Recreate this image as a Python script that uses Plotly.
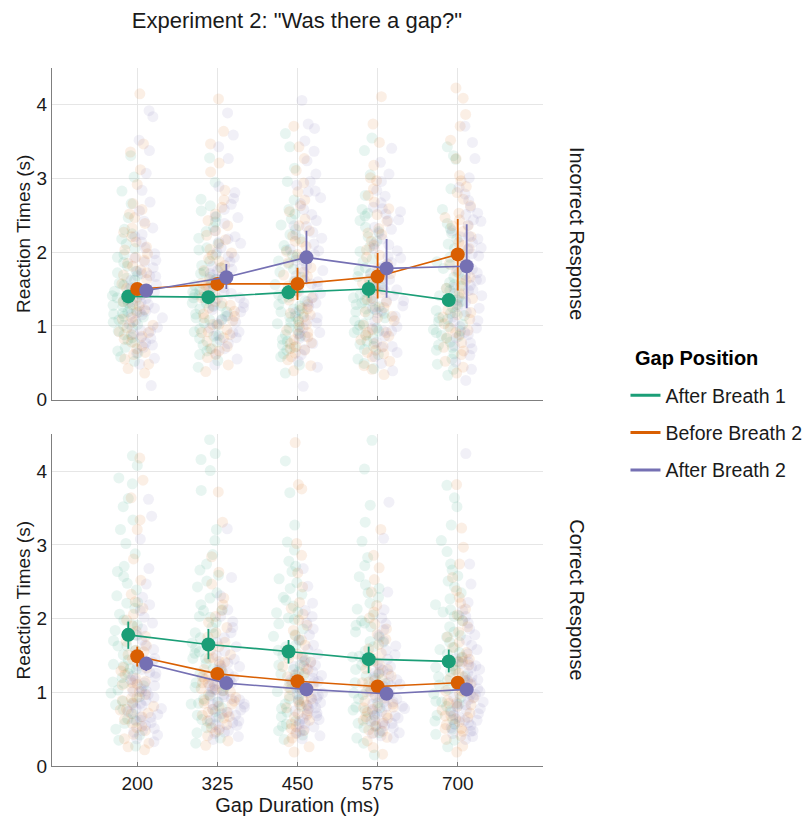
import plotly.graph_objects as go
from plotly.subplots import make_subplots

durations = [200, 325, 450, 575, 700]
positions = ["After Breath 1", "Before Breath 2", "After Breath 2"]
facets = ["Incorrect Response", "Correct Response"]
colors = {"After Breath 1": "#1B9E77", "Before Breath 2": "#D95F02", "After Breath 2": "#7570B3"}

# Mean reaction times (s) by duration
inc_mean_ab1 = [1.40, 1.39, 1.455, 1.50, 1.35]
inc_mean_bb2 = [1.50, 1.57, 1.57, 1.67, 1.97]
inc_mean_ab2 = [1.48, 1.66, 1.93, 1.78, 1.81]
cor_mean_ab1 = [1.78, 1.65, 1.555, 1.45, 1.42]
cor_mean_bb2 = [1.49, 1.25, 1.15, 1.08, 1.13]
cor_mean_ab2 = [1.39, 1.125, 1.04, 0.98, 1.04]

# Error bar low / high (s)
inc_lo_ab1 = [1.33, 1.32, 1.36, 1.38, 1.27]
inc_hi_ab1 = [1.47, 1.46, 1.55, 1.62, 1.43]
inc_lo_bb2 = [1.43, 1.49, 1.35, 1.37, 1.48]
inc_hi_bb2 = [1.57, 1.65, 1.79, 1.99, 2.45]
inc_lo_ab2 = [1.40, 1.50, 1.59, 1.38, 1.24]
inc_hi_ab2 = [1.56, 1.84, 2.29, 2.18, 2.38]
cor_lo_ab1 = [1.59, 1.45, 1.39, 1.26, 1.27]
cor_hi_ab1 = [1.96, 1.86, 1.71, 1.62, 1.58]
cor_lo_bb2 = [1.35, 1.19, 1.09, 1.03, 1.07]
cor_hi_bb2 = [1.62, 1.31, 1.21, 1.13, 1.19]
cor_lo_ab2 = [1.29, 1.07, 0.99, 0.94, 0.99]
cor_hi_ab2 = [1.48, 1.18, 1.09, 1.02, 1.09]

# Raw trial reaction times (s), per duration
inc_raw_ab1 = [
    [0.52,0.71,0.84,0.93,1.02,1.08,1.17,1.21,1.28,1.33,1.36,1.41,1.47,1.55,1.62,1.68,1.74,1.86,1.93,2.05,2.18,2.31,2.47,2.66,2.83,3.02,3.31,0.63,1.12,1.24,
     0.58,0.66,0.77,0.88,0.97,1.05,1.13,1.19,1.26,1.31,1.38,1.44,1.52,1.58,1.65,1.72,1.81,1.97,2.11,2.25,0.81,1.01,1.16,1.35,1.49],
    [0.44,0.61,0.78,0.87,0.96,1.04,1.13,1.19,1.27,1.35,1.42,1.49,1.58,1.66,1.73,1.82,1.97,2.12,2.28,2.41,2.56,2.63,2.72,2.95,3.28,0.69,1.08,1.31,1.52,2.03,
     0.53,0.66,0.74,0.83,0.92,1.01,1.09,1.16,1.23,1.31,1.38,1.46,1.55,1.63,1.71,1.79,1.88,2.06,2.19,2.34,0.86,1.11,1.27,1.43,2.48],
    [0.36,0.58,0.67,0.82,0.94,1.01,1.09,1.16,1.23,1.34,1.42,1.48,1.56,1.61,1.77,1.88,1.96,2.09,2.24,2.37,2.52,2.71,2.96,3.14,3.43,3.61,0.74,1.12,1.29,2.45,
     0.47,0.62,0.71,0.79,0.88,0.97,1.05,1.13,1.21,1.27,1.37,1.45,1.52,1.66,1.73,1.84,1.93,2.03,2.18,2.31,0.86,1.03,1.19,1.39,2.58],
    [0.42,0.55,0.68,0.79,0.88,0.97,1.03,1.11,1.19,1.26,1.31,1.38,1.46,1.53,1.67,1.79,1.91,2.07,2.21,2.34,2.49,2.58,2.77,3.05,3.38,3.55,0.93,1.22,1.71,2.43,
     0.49,0.61,0.72,0.83,0.91,1.01,1.07,1.15,1.23,1.29,1.35,1.42,1.49,1.57,1.63,1.75,1.87,2.01,2.15,2.28,0.75,0.95,1.17,1.34,2.53],
    [0.33,0.48,0.62,0.74,0.83,0.91,0.99,1.06,1.14,1.21,1.29,1.36,1.44,1.51,1.59,1.66,1.78,1.87,1.98,2.11,2.26,2.39,2.58,2.86,3.26,3.31,3.43,0.87,1.18,1.54,
     0.41,0.55,0.67,0.78,0.86,0.95,1.02,1.09,1.17,1.25,1.33,1.41,1.48,1.56,1.63,1.72,1.83,1.93,2.05,2.18,0.71,0.93,1.11,1.39,2.32],
]
inc_raw_bb2 = [
    [0.36,0.42,0.55,0.69,0.78,0.86,0.97,1.05,1.18,1.27,1.39,1.51,1.63,1.76,1.89,1.98,2.07,2.21,2.33,2.47,2.66,2.92,3.12,3.36,3.47,4.15,0.92,1.44,1.85,2.58,
     0.48,0.61,0.73,0.82,0.91,1.01,1.11,1.22,1.33,1.45,1.57,1.69,1.81,1.93,2.03,2.14,2.27,2.39,0.64,0.88,1.09,1.29,1.48,1.72,2.52],
    [0.38,0.57,0.66,0.79,0.88,0.95,1.07,1.16,1.24,1.38,1.47,1.58,1.69,1.82,1.96,2.04,2.17,2.29,2.43,2.61,2.84,3.09,3.21,3.47,3.64,4.08,1.02,1.33,1.91,2.52,
     0.47,0.61,0.72,0.84,0.91,1.02,1.11,1.20,1.31,1.42,1.52,1.63,1.75,1.88,1.99,2.11,2.23,2.36,0.69,0.92,1.13,1.28,1.55,1.79,2.71],
    [0.39,0.54,0.63,0.72,0.81,0.89,0.98,1.06,1.17,1.29,1.41,1.54,1.67,1.79,1.93,2.08,2.22,2.36,2.55,2.71,2.94,3.11,3.27,3.43,3.71,0.77,1.24,1.62,2.14,2.82,
     0.46,0.58,0.67,0.76,0.85,0.94,1.02,1.12,1.23,1.35,1.47,1.60,1.73,1.86,2.01,2.15,2.29,2.45,0.69,0.91,1.15,1.38,1.69,1.97,2.63],
    [0.34,0.46,0.58,0.67,0.76,0.87,0.95,1.07,1.19,1.32,1.45,1.58,1.71,1.84,2.03,2.15,2.32,2.51,2.68,2.86,3.01,3.18,3.49,3.74,4.11,0.91,1.26,1.63,2.24,2.97,
     0.41,0.52,0.62,0.72,0.81,0.91,1.01,1.13,1.25,1.38,1.51,1.64,1.77,1.93,2.09,2.26,2.42,2.59,0.64,0.86,1.11,1.36,1.68,1.96,2.77],
    [0.36,0.52,0.71,0.84,0.97,1.09,1.22,1.37,1.51,1.66,1.82,1.97,2.13,2.28,2.44,2.63,2.81,3.04,3.27,3.52,3.71,3.87,4.09,4.23,0.94,1.44,1.91,2.36,2.97,1.18,
     0.44,0.61,0.77,0.91,1.03,1.15,1.29,1.44,1.58,1.74,1.89,2.05,2.21,2.36,2.53,2.72,0.66,0.88,1.12,1.33,1.62,1.84,2.09,2.47,2.89],
]
inc_raw_ab2 = [
    [0.19,0.48,0.63,0.77,0.89,0.98,1.07,1.16,1.24,1.33,1.42,1.51,1.62,1.74,1.87,1.98,2.14,2.33,2.56,2.84,3.07,3.38,3.52,3.84,3.92,0.83,1.19,1.46,1.71,2.24,
     0.56,0.71,0.84,0.94,1.02,1.11,1.20,1.29,1.37,1.46,1.56,1.67,1.79,1.92,2.06,2.21,2.42,0.74,0.93,1.15,1.32,1.51,1.68,1.89,2.68],
    [0.47,0.62,0.76,0.87,0.97,1.08,1.19,1.31,1.44,1.57,1.69,1.81,1.94,2.06,2.21,2.39,2.58,2.73,2.89,3.27,3.43,3.59,3.89,0.91,1.26,1.52,1.77,2.12,2.47,1.38,
     0.55,0.69,0.81,0.92,1.03,1.14,1.25,1.37,1.50,1.63,1.75,1.87,2.00,2.14,2.29,2.48,2.65,0.84,1.05,1.22,1.46,1.71,1.93,2.18,2.81],
    [0.18,0.52,0.68,0.83,0.97,1.11,1.26,1.39,1.53,1.68,1.82,1.97,2.11,2.27,2.43,2.58,2.74,2.91,3.06,3.24,3.51,3.68,3.74,4.06,0.91,1.44,1.89,2.36,2.82,3.37,
     0.44,0.61,0.76,0.90,1.04,1.18,1.33,1.46,1.60,1.75,1.89,2.04,2.19,2.35,2.51,2.66,2.83,0.86,1.08,1.31,1.57,1.78,2.02,2.24,2.96],
    [0.39,0.58,0.71,0.86,0.99,1.13,1.27,1.41,1.56,1.71,1.86,2.02,2.18,2.34,2.52,2.67,2.84,3.06,3.22,3.41,2.61,0.93,1.34,1.63,2.11,2.96,1.18,1.92,2.44,1.49,
     0.49,0.64,0.78,0.93,1.06,1.20,1.34,1.49,1.64,1.79,1.94,2.10,2.26,2.43,2.59,2.76,0.72,0.97,1.24,1.53,1.81,2.05,2.31,2.55,1.37],
    [0.26,0.51,0.69,0.84,0.97,1.12,1.26,1.41,1.55,1.69,1.84,1.98,2.13,2.29,2.44,2.61,2.79,3.01,3.27,3.49,3.71,0.88,1.35,1.76,2.22,2.51,1.07,1.63,2.04,1.52,
     0.41,0.60,0.77,0.91,1.05,1.19,1.33,1.48,1.62,1.77,1.91,2.06,2.21,2.37,2.53,2.70,0.73,0.99,1.24,1.49,1.72,1.95,2.18,2.42,2.88],
]
cor_raw_ab1 = [
    [0.27,0.42,0.58,0.71,0.83,0.94,1.03,1.14,1.26,1.38,1.51,1.63,1.77,1.91,2.06,2.22,2.39,2.57,2.71,2.88,3.02,3.21,3.34,3.52,3.63,3.83,3.91,4.08,4.21,1.31,
     0.35,0.50,0.64,0.77,0.88,0.99,1.09,1.20,1.32,1.44,1.57,1.70,1.84,1.98,2.14,2.31,2.48,2.64,0.61,0.86,1.12,1.36,1.63,1.92,2.21],
    [0.31,0.45,0.58,0.69,0.79,0.91,1.02,1.13,1.26,1.39,1.53,1.67,1.81,1.95,2.11,2.28,2.43,2.59,2.74,2.87,3.06,3.21,3.74,4.16,4.24,4.43,4.01,1.46,2.02,0.84,
     0.38,0.52,0.63,0.74,0.85,0.96,1.07,1.19,1.32,1.46,1.60,1.74,1.88,2.03,2.19,2.35,2.51,0.66,0.87,1.08,1.29,1.55,1.79,2.12,2.66],
    [0.36,0.48,0.61,0.73,0.84,0.96,1.07,1.19,1.31,1.44,1.57,1.71,1.86,2.01,2.17,2.33,2.49,2.64,2.78,2.93,3.04,3.27,3.71,4.14,1.22,1.62,2.08,0.91,1.37,2.54,
     0.42,0.54,0.67,0.78,0.90,1.01,1.13,1.25,1.37,1.50,1.64,1.78,1.93,2.09,2.25,2.41,0.57,0.81,1.04,1.28,1.51,1.76,1.99,2.29,2.71],
    [0.15,0.38,0.52,0.64,0.75,0.86,0.97,1.08,1.19,1.31,1.43,1.56,1.69,1.82,1.97,2.13,2.29,2.41,2.57,2.72,2.83,3.05,3.31,3.54,4.03,4.42,1.12,1.48,1.91,0.79,
     0.31,0.45,0.58,0.69,0.80,0.91,1.02,1.13,1.25,1.37,1.49,1.62,1.75,1.89,2.05,2.21,2.35,0.54,0.76,0.99,1.22,1.45,1.68,1.94,2.46],
    [0.26,0.43,0.57,0.69,0.81,0.93,1.04,1.16,1.28,1.41,1.54,1.68,1.82,1.97,2.12,2.27,2.43,2.58,2.74,2.91,3.06,3.27,3.52,3.64,3.81,1.21,1.58,0.88,2.03,1.36,
     0.35,0.50,0.63,0.75,0.87,0.98,1.10,1.22,1.34,1.47,1.61,1.75,1.89,2.04,2.19,2.35,2.51,0.61,0.84,1.07,1.30,1.52,1.77,2.09,2.66],
]
cor_raw_bb2 = [
    [0.22,0.31,0.43,0.54,0.63,0.72,0.81,0.89,0.97,1.06,1.15,1.24,1.34,1.45,1.57,1.69,1.83,1.98,2.14,2.33,2.52,2.81,3.21,3.34,3.64,3.88,4.18,0.77,1.11,1.39,
     0.26,0.37,0.48,0.58,0.67,0.76,0.85,0.93,1.01,1.10,1.19,1.29,1.40,1.51,1.63,1.76,1.90,2.06,0.52,0.71,0.92,1.13,1.33,1.55,2.23],
    [0.28,0.41,0.52,0.61,0.69,0.77,0.85,0.93,1.01,1.09,1.18,1.27,1.36,1.46,1.57,1.68,1.81,1.95,2.11,2.28,2.47,2.63,2.84,3.31,3.72,0.88,1.13,1.42,0.73,1.04,
     0.34,0.46,0.56,0.65,0.73,0.81,0.89,0.97,1.05,1.13,1.22,1.31,1.41,1.51,1.62,1.75,1.88,2.03,0.49,0.67,0.84,1.02,1.21,1.47,2.19],
    [0.19,0.33,0.44,0.53,0.62,0.71,0.79,0.87,0.95,1.03,1.12,1.21,1.31,1.41,1.52,1.64,1.77,1.91,2.06,2.22,2.43,2.62,2.86,3.02,3.76,3.82,4.39,0.83,1.08,1.35,
     0.26,0.38,0.48,0.57,0.66,0.75,0.83,0.91,0.99,1.07,1.16,1.26,1.36,1.46,1.58,1.71,1.84,1.98,0.51,0.69,0.88,1.05,1.24,1.49,2.14],
    [0.16,0.34,0.45,0.54,0.62,0.69,0.77,0.84,0.92,1.01,1.09,1.18,1.27,1.37,1.48,1.59,1.72,1.86,2.01,2.18,2.36,2.53,2.69,2.86,3.21,0.81,1.04,1.31,0.67,1.14,
     0.25,0.39,0.49,0.58,0.65,0.73,0.80,0.88,0.96,1.05,1.13,1.22,1.32,1.42,1.53,1.65,1.79,1.93,0.47,0.62,0.79,0.97,1.16,1.41,2.09],
    [0.19,0.36,0.47,0.56,0.64,0.72,0.81,0.89,0.98,1.07,1.16,1.26,1.37,1.48,1.61,1.75,1.89,2.05,2.21,2.38,2.56,2.74,2.97,3.23,3.82,0.86,1.11,1.42,0.68,1.02,
     0.27,0.41,0.51,0.60,0.68,0.76,0.85,0.93,1.02,1.11,1.21,1.31,1.42,1.54,1.68,1.82,1.97,2.13,0.51,0.66,0.83,1.01,1.19,1.45,2.29],
]
cor_raw_ab2 = [
    [0.33,0.42,0.51,0.59,0.67,0.74,0.82,0.89,0.97,1.05,1.13,1.22,1.31,1.41,1.52,1.64,1.78,1.94,2.11,2.29,2.47,2.68,3.08,3.39,3.62,0.78,1.01,1.27,0.62,1.16,
     0.37,0.46,0.55,0.63,0.70,0.78,0.85,0.93,1.01,1.09,1.17,1.26,1.36,1.46,1.58,1.71,1.86,2.02,0.48,0.66,0.83,1.02,1.21,1.43,2.19],
    [0.36,0.44,0.52,0.59,0.66,0.73,0.80,0.87,0.94,1.01,1.09,1.17,1.26,1.35,1.45,1.56,1.68,1.81,1.96,2.12,2.31,2.56,3.22,0.71,0.91,1.12,1.38,0.56,0.84,1.03,
     0.40,0.48,0.55,0.62,0.69,0.76,0.83,0.90,0.97,1.05,1.13,1.21,1.30,1.40,1.50,1.62,1.74,1.88,0.46,0.61,0.77,0.95,1.15,1.32,2.03],
    [0.37,0.45,0.53,0.61,0.68,0.75,0.82,0.89,0.96,1.03,1.11,1.19,1.28,1.37,1.47,1.58,1.71,1.86,2.03,2.21,2.44,2.68,0.72,0.93,1.14,1.41,0.58,0.86,1.06,1.24,
     0.41,0.49,0.57,0.64,0.71,0.78,0.85,0.92,0.99,1.07,1.15,1.23,1.32,1.42,1.52,1.64,1.78,1.94,0.47,0.63,0.79,0.98,1.17,1.35,2.11],
    [0.38,0.45,0.52,0.58,0.65,0.71,0.78,0.84,0.91,0.98,1.05,1.13,1.21,1.30,1.40,1.51,1.63,1.77,1.93,2.12,2.36,3.58,3.09,0.68,0.87,1.08,1.32,0.55,0.81,0.99,
     0.41,0.48,0.55,0.61,0.68,0.74,0.81,0.87,0.94,1.01,1.09,1.17,1.25,1.35,1.45,1.57,1.70,1.85,0.44,0.60,0.75,0.93,1.11,1.27,2.01],
    [0.36,0.44,0.52,0.59,0.66,0.73,0.80,0.87,0.94,1.01,1.09,1.17,1.26,1.36,1.46,1.58,1.71,1.86,2.03,2.22,2.47,2.74,4.24,0.71,0.92,1.13,1.39,0.57,0.84,1.04,
     0.40,0.48,0.55,0.62,0.69,0.76,0.83,0.90,0.97,1.05,1.13,1.21,1.31,1.41,1.52,1.64,1.78,1.94,0.47,0.62,0.78,0.97,1.16,1.34,2.11],
]

FONT = "Liberation Sans, Arial, Helvetica, sans-serif"
TXT = "#1a1a1a"
dodge = {"After Breath 1": -14, "Before Breath 2": 0, "After Breath 2": 14}

panel_data = {
    1: {
        "After Breath 1": (inc_raw_ab1, inc_mean_ab1, inc_lo_ab1, inc_hi_ab1),
        "Before Breath 2": (inc_raw_bb2, inc_mean_bb2, inc_lo_bb2, inc_hi_bb2),
        "After Breath 2": (inc_raw_ab2, inc_mean_ab2, inc_lo_ab2, inc_hi_ab2),
    },
    2: {
        "After Breath 1": (cor_raw_ab1, cor_mean_ab1, cor_lo_ab1, cor_hi_ab1),
        "Before Breath 2": (cor_raw_bb2, cor_mean_bb2, cor_lo_bb2, cor_hi_bb2),
        "After Breath 2": (cor_raw_ab2, cor_mean_ab2, cor_lo_ab2, cor_hi_ab2),
    },
}

fig = make_subplots(rows=2, cols=1, shared_xaxes=True, vertical_spacing=0.05)

# raw jittered points
for row in (1, 2):
    for pos in positions:
        raw = panel_data[row][pos][0]
        xs, ys = [], []
        for d, vals in zip(durations, raw):
            xs += [d + dodge[pos]] * len(vals)
            ys += vals
        fig.add_trace(go.Box(
            x=xs, y=ys, boxpoints="all", jitter=1, pointpos=0, width=58,
            marker=dict(color=colors[pos], size=11, opacity=0.1, line=dict(width=0)),
            line=dict(width=0), fillcolor="rgba(0,0,0,0)",
            showlegend=False, hoverinfo="skip",
        ), row=row, col=1)

# means with error bars
for row in (1, 2):
    for pos in positions:
        _, m, lo, hi = panel_data[row][pos]
        xs = [d + dodge[pos] for d in durations]
        fig.add_trace(go.Scatter(
            x=xs, y=m, mode="lines+markers",
            line=dict(color=colors[pos], width=1.6),
            marker=dict(color=colors[pos], size=14),
            error_y=dict(type="data", symmetric=False,
                         array=[h - v for h, v in zip(hi, m)],
                         arrayminus=[v - l for v, l in zip(m, lo)],
                         color=colors[pos], thickness=1.8, width=0),
            showlegend=False,
        ), row=row, col=1)

# legend entries
for pos in positions:
    fig.add_trace(go.Scatter(
        x=[None], y=[None], mode="lines", name=pos,
        line=dict(color=colors[pos], width=3), legendgroup=pos,
    ), row=1, col=1)

axis_col = "#7f7f7f"
grid_col = "#e6e6e6"
for row in (1, 2):
    fig.update_xaxes(
        range=[67, 833], tickvals=durations, ticktext=[str(d) for d in durations],
        showgrid=True, gridcolor=grid_col, gridwidth=1,
        showline=True, linecolor=axis_col, linewidth=1,
        ticks="inside", ticklen=4, tickcolor=axis_col,
        zeroline=False, tickfont=dict(size=19, color=TXT, family=FONT),
        automargin=False,
        row=row, col=1,
    )
    fig.update_yaxes(
        range=[0, 4.5], tickvals=[0, 1, 2, 3, 4],
        showgrid=True, gridcolor=grid_col, gridwidth=1,
        showline=True, linecolor=axis_col, linewidth=1,
        ticks="", zeroline=False, automargin=False,
        tickfont=dict(size=19, color=TXT, family=FONT),
        title=dict(text="Reaction Times (s)", font=dict(size=19, color=TXT, family=FONT), standoff=0),
        row=row, col=1,
    )
fig.update_xaxes(showticklabels=True, row=2, col=1,
                 title=dict(text="Gap Duration (ms)", font=dict(size=20, color=TXT, family=FONT), standoff=0))

# facet strip labels
for i, lab in enumerate(facets):
    yref = "y domain" if i == 0 else "y2 domain"
    fig.add_annotation(text=lab, xref="paper", yref=yref, x=1.069, y=0.5,
                       xanchor="center", yanchor="middle",
                       showarrow=False, textangle=90,
                       font=dict(size=20, color=TXT, family=FONT))

# legend title
fig.add_annotation(text="<b>Gap Position</b>", xref="paper", yref="paper",
                   x=(633 - 52) / 491, y=(766 - 358) / 698, xanchor="left", yanchor="middle",
                   showarrow=False, font=dict(size=20, color="#000", family=FONT))

fig.update_layout(
    width=804, height=822,
    margin=dict(l=52, r=261, t=68, b=56, autoexpand=False),
    paper_bgcolor="white", plot_bgcolor="white",
    boxmode="overlay",
    title=dict(text='Experiment 2: "Was there a gap?"', x=297 / 804, xanchor="center",
               y=1 - 20 / 822, yanchor="middle", yref="container",
               font=dict(size=22, color=TXT, family=FONT)),
    legend=dict(
        x=1.168, xanchor="left", y=(766 - 433) / 698, yanchor="middle",
        font=dict(size=19.5, color=TXT, family=FONT),
        tracegroupgap=9, itemwidth=30, bgcolor="rgba(0,0,0,0)",
    ),
    font=dict(family=FONT),
)

fig.write_html("out.html", config={"displayModeBar": False},
               post_script="document.body.style.margin='0';document.body.style.padding='0';")
